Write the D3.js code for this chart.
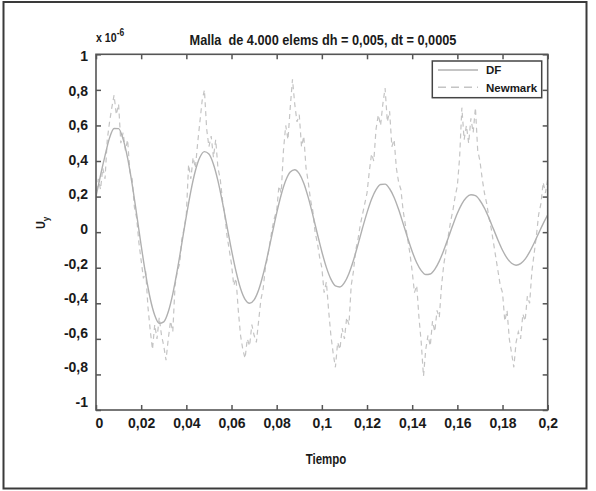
<!DOCTYPE html>
<html><head><meta charset="utf-8">
<script src="https://cdn.jsdelivr.net/npm/d3@7"></script>
<style>body{margin:0;background:#fff}svg{display:block}</style>
</head><body><svg id="c" width="596" height="491"></svg>
<script>
// ---- data (values in units of 1e-6) ----
const titleText = "Malla  de 4.000 elems dh = 0,005, dt = 0,0005";
const xLabel = "Tiempo";
const seriesNames = ["DF", "Newmark"];
const xTicks = [0, 0.02, 0.04, 0.06, 0.08, 0.1, 0.12, 0.14, 0.16, 0.18, 0.2];
const yTicks = [-1, -0.8, -0.6, -0.4, -0.2, 0, 0.2, 0.4, 0.6, 0.8, 1];
const dfStep = 0.002;
const dfValues = [0.20,0.32,0.43,0.53,0.583,0.582,
0.523,0.416,0.270,0.100,-0.075,-0.238,-0.373,-0.467,-0.513,-0.505,
-0.448,-0.347,-0.214,-0.063,0.090,0.231,0.345,0.421,0.453,0.439,
0.382,0.288,0.167,0.033,-0.101,-0.221,-0.317,-0.378,-0.400,-0.381,
-0.325,-0.238,-0.129,-0.010,0.107,0.210,0.290,0.338,0.351,0.329,
0.275,0.194,0.096,-0.009,-0.110,-0.198,-0.264,-0.302,-0.308,-0.284,
-0.232,-0.158,-0.070,0.023,0.110,0.185,0.239,0.268,0.270,0.244,
0.195,0.127,0.048,-0.033,-0.109,-0.172,-0.216,-0.238,-0.235,-0.209,
-0.163,-0.101,-0.031,0.040,0.106,0.159,0.195,0.210,0.205,0.178,
0.135,0.079,0.017,-0.045,-0.102,-0.146,-0.175,-0.186,-0.177,-0.152,
-0.111,-0.061,-0.006,0.048,0.097];
const nmStep = 0.001;
const nmValues = [0.18,0.30,0.24,0.36,0.30,0.52,0.62,0.70,0.77,0.66,
0.72,0.50,0.56,0.46,0.52,0.34,0.30,0.14,0.08,-0.06,
-0.16,-0.26,-0.22,-0.42,-0.55,-0.66,-0.52,-0.60,-0.48,-0.58,
-0.64,-0.72,-0.60,-0.50,-0.56,-0.30,-0.22,-0.18,-0.04,0.02,
0.10,0.38,0.30,0.42,0.36,0.50,0.62,0.74,0.80,0.58,
0.48,0.54,0.42,0.52,0.36,0.30,0.18,0.10,-0.02,-0.10,
-0.18,-0.30,-0.26,-0.44,-0.58,-0.66,-0.71,-0.60,-0.64,-0.52,
-0.58,-0.62,-0.50,-0.38,-0.32,-0.20,-0.14,-0.06,0.02,0.08,
0.12,0.26,0.22,0.46,0.60,0.52,0.70,0.86,0.72,0.62,
0.66,0.48,0.54,0.36,0.28,0.18,0.12,0.00,-0.06,-0.14,
-0.20,-0.34,-0.28,-0.44,-0.58,-0.68,-0.76,-0.62,-0.66,-0.54,
-0.60,-0.48,-0.52,-0.30,-0.22,-0.10,-0.04,0.04,0.10,0.16,
0.22,0.34,0.44,0.40,0.58,0.66,0.60,0.72,0.81,0.62,
0.68,0.48,0.52,0.36,0.28,0.24,0.12,0.04,-0.04,-0.12,
-0.22,-0.34,-0.30,-0.48,-0.62,-0.81,-0.66,-0.58,-0.64,-0.50,
-0.56,-0.44,-0.48,-0.30,-0.18,-0.10,-0.02,0.06,0.12,0.20,
0.26,0.42,0.70,0.52,0.60,0.50,0.64,0.56,0.70,0.46,
0.40,0.30,0.22,0.16,0.08,0.02,-0.06,-0.14,-0.22,-0.30,
-0.34,-0.50,-0.44,-0.60,-0.68,-0.76,-0.62,-0.56,-0.60,-0.46,
-0.50,-0.36,-0.40,-0.22,-0.12,-0.02,0.10,0.16,0.28,0.22,
0.30];

// ---- layout ----
const svg = d3.select("#c");
const L = 96, R = 547.7, T = 54.3, B = 410;
const x = d3.scaleLinear().domain([0, 0.2]).range([L, R]);
const y = d3.scaleLinear().domain([-1, 1]).range([B, T]);
const yLab = d3.scaleLinear().domain([-1, 1]).range([402, 56]);
const fmt = d => String(+d.toFixed(2)).replace(".", ",");
const FW = "'Liberation Sans', Arial, sans-serif";
const ink = "#1a1a1a";

// condensed text helper
function ctext(parent, tx, ty, size, sx, anchor) {
  return parent.append("text")
    .attr("transform", `translate(${tx},${ty}) scale(${sx},1)`)
    .attr("text-anchor", anchor || "start")
    .attr("font-family", FW).attr("font-weight", "bold")
    .attr("font-size", size).attr("fill", ink)
    .style("white-space", "pre");
}

// outer frame
svg.append("rect").attr("x", 3.5).attr("y", 2).attr("width", 583).attr("height", 486.5)
  .attr("fill", "#fff").attr("stroke", "#3a3a3a").attr("stroke-width", 2);

// clip
svg.append("clipPath").attr("id", "pc").append("rect")
  .attr("x", L).attr("y", T).attr("width", R - L).attr("height", B - T);

const g = svg.append("g").attr("clip-path", "url(#pc)");
const dfData = dfValues.map((v, i) => [i * dfStep, v]);
const nmData = nmValues.map((v, i) => [i * nmStep, v]);

g.append("path").datum(nmData)
  .attr("d", d3.line().x(d => x(d[0])).y(d => y(d[1])))
  .attr("fill", "none").attr("stroke", "#c4c4c4").attr("stroke-width", 1.2)
  .attr("stroke-dasharray", "5,4");
g.append("path").datum(dfData)
  .attr("d", d3.line().x(d => x(d[0])).y(d => y(d[1])).curve(d3.curveMonotoneX))
  .attr("fill", "none").attr("stroke", "#b0b0b0").attr("stroke-width", 1.4);

// axes (inward ticks on all sides)
const axStroke = "#555";
function styleAxis(sel) {
  sel.select(".domain").remove();
  sel.selectAll(".tick line").attr("stroke", axStroke).attr("stroke-width", 1.5);
}
svg.append("g").attr("transform", `translate(0,${B})`)
  .call(d3.axisBottom(x).tickValues(xTicks).tickSizeInner(-5).tickSizeOuter(0).tickFormat(""))
  .call(styleAxis);
svg.append("g").attr("transform", `translate(0,${T})`)
  .call(d3.axisTop(x).tickValues(xTicks).tickSizeInner(-5).tickSizeOuter(0).tickFormat(""))
  .call(styleAxis);
svg.append("g").attr("transform", `translate(${L},0)`)
  .call(d3.axisLeft(y).tickValues(yTicks).tickSizeInner(-5).tickSizeOuter(0).tickFormat(""))
  .call(styleAxis);
svg.append("g").attr("transform", `translate(${R},0)`)
  .call(d3.axisRight(y).tickValues(yTicks).tickSizeInner(-5).tickSizeOuter(0).tickFormat(""))
  .call(styleAxis);

// box
svg.append("rect").attr("x", L).attr("y", T).attr("width", R - L).attr("height", B - T)
  .attr("fill", "none").attr("stroke", axStroke).attr("stroke-width", 1.6);

// tick labels
const xl = svg.append("g").attr("transform", `translate(0,${B})`)
  .call(d3.axisBottom(x).tickValues(xTicks).tickSize(0).tickPadding(18).tickFormat(fmt));
xl.select(".domain").remove();
xl.selectAll("text").attr("font-family", FW).attr("font-weight", "bold").attr("font-size", 14)
  .attr("fill", ink).attr("dy", "0")
  .attr("dx", d => d === 0 ? 3 : 0);
const yl = svg.append("g").attr("transform", `translate(88,0)`)
  .call(d3.axisLeft(yLab).tickValues(yTicks).tickSize(0).tickPadding(0).tickFormat(fmt));
yl.select(".domain").remove();
yl.selectAll("text").attr("font-family", FW).attr("font-weight", "bold").attr("font-size", 14)
  .attr("fill", ink);

// multiplier
const mult = ctext(svg, 96, 42, 12.5, 0.85);
mult.append("tspan").text("x 10");
mult.append("tspan").attr("dy", -6).attr("font-size", 10).text("-6");

// title
ctext(svg, 323, 45, 15, 0.85, "middle").text(titleText);

// x label
ctext(svg, 326, 464, 14, 0.82, "middle").text(xLabel);

// y label U_y
const yt = svg.append("text").attr("transform", "translate(45,229) rotate(-90) scale(0.9,1)")
  .attr("font-family", FW).attr("font-weight", "bold").attr("font-size", 12).attr("fill", ink);
yt.append("tspan").text("U");
yt.append("tspan").attr("dy", 4).attr("font-size", 9).text("y");

// legend
const lg = svg.append("g");
lg.append("rect").attr("x", 432.3).attr("y", 61).attr("width", 109.4).attr("height", 36.7)
  .attr("fill", "#fff").attr("stroke", "#444").attr("stroke-width", 1.5);
const legStyles = [{c: "#b0b0b0", dash: null}, {c: "#c4c4c4", dash: "8,5"}];
seriesNames.forEach((n, i) => {
  const yy = 70 + i * 17.3;
  lg.append("line").attr("x1", 438).attr("x2", 478).attr("y1", yy).attr("y2", yy)
    .attr("stroke", legStyles[i].c).attr("stroke-width", 1.4)
    .attr("stroke-dasharray", legStyles[i].dash);
  ctext(lg, 486, yy + 4.2, 11.5, 1).text(n);
});
</script></body></html>
